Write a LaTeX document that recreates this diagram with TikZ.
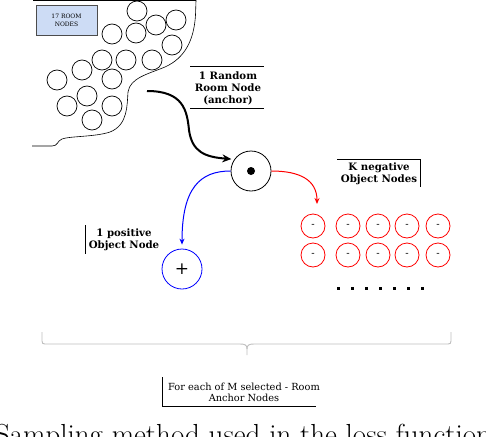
\documentclass[tikz,border=0pt]{standalone}
\usepackage{fontspec}
\newfontfamily\djs{DejaVu Serif}
\usetikzlibrary{arrows.meta}
\definecolor{roombox}{RGB}{205,220,245}
\definecolor{bracegray}{RGB}{190,190,190}
\begin{document}
\begin{tikzpicture}[x=1pt,y=-1pt,
  room/.style={circle,draw=black,line width=0.7pt,minimum size=20pt,inner sep=0pt},
  negnode/.style={circle,draw=red,line width=0.8pt,minimum size=24pt,inner sep=0pt,font=\djs\fontsize{10}{10}\selectfont},
  lbl/.style={font=\djs\bfseries\fontsize{10.2}{12}\selectfont,align=center,inner sep=0pt},
  plainlbl/.style={font=\djs\fontsize{9.8}{11}\selectfont,align=center,inner sep=0pt},
  rule/.style={line width=0.8pt,black},
  outline/.style={line width=0.6pt,black}]
\useasboundingbox (0,0) rectangle (486,436);

% blob outline of the room
\draw[outline] (33,0.5) -- (196,0.5) -- (195.5,15)
  .. controls (194,40) and (185,58) .. (165,67)
  .. controls (148,74) and (130,78) .. (128,92)
  .. controls (127,105) and (128,125) .. (110,132)
  .. controls (95,137) and (70,136) .. (62,139)
  .. controls (57,141) and (58,146) .. (52,146) -- (32,146);

\node[draw=black!70,fill=roombox,line width=0.6pt,minimum width=61pt,minimum height=30pt,inner sep=0pt,
  font=\djs\fontsize{6}{8}\selectfont,align=center] (roomlbl) at (66.5,20) {17 ROOM\\NODES};

% room nodes
\node[room] (r1) at (137,11) {};
\node[room] (r2) at (156,25) {};
\node[room] (r3) at (176,20) {};
\node[room] (r4) at (136,33) {};
\node[room] (r5) at (112,34) {};
\node[room] (r6) at (172,45) {};
\node[room] (r7) at (102,60) {};
\node[room] (r8) at (126,60) {};
\node[room] (r9) at (152,60) {};
\node[room] (r10) at (82,70) {};
\node[room] (r11) at (112,79) {};
\node[room] (r12) at (57,80) {};
\node[room] (r13) at (87,96) {};
\node[room] (r14) at (67,106) {};
\node[room] (r15) at (112,106) {};
\node[room] (r16) at (92,120) {};

% anchor label
\node[lbl] (anchorlbl) at (228,88) {1 Random\\Room Node\\(anchor)};
\draw[rule] (190,66) -- (264,66);
\draw[rule] (190,108) -- (264,108);

% anchor node
\node[circle,draw=black,line width=0.8pt,minimum size=40pt,inner sep=0pt] (anchor) at (251,171) {};
\node[circle,fill=black,minimum size=8pt,inner sep=0pt] (dot) at (anchor) {};

\coordinate (ra) at (147,91);
\draw[line width=2pt,-{Stealth[length=9pt,width=8pt]},shorten >=3pt] (ra)
  .. controls (183,91) and (187,110) .. (189,130)
  .. controls (192,152) and (205,157) .. (anchor.145);

% positive
\node[circle,draw=blue,line width=0.8pt,minimum size=40pt,inner sep=0pt,font=\djs\fontsize{17}{17}\selectfont] (pos) at (182,269) {+};
\draw[blue,line width=1pt,-{Stealth[length=6pt,width=5pt]},shorten >=4pt] (anchor.west)
  .. controls (200,171) and (182,188) .. (pos.north);
\node[lbl] (poslbl) at (124,240) {1 positive\\Object Node};
\draw[rule] (85,225) -- (85,254);

% negatives
\node[lbl] (neglbl) at (379,173.5) {K negative\\Object Nodes};
\draw[rule] (337,159) -- (420,159) -- (420,187);
\coordinate (redtip) at (317,204);
\draw[red,line width=1pt,-{Stealth[length=6pt,width=5pt]}] (anchor.east)
  .. controls (300,171) and (317,180) .. (redtip);

\foreach \i/\x in {1/313,2/348,3/378,4/407,5/438}{
  \node[negnode] (na\i) at (\x,226) {-};
  \node[negnode] (nb\i) at (\x,255) {-};
}
\foreach \k in {0,...,6}{
  \fill[black] ({338+14*\k-1.5},286.5) rectangle ++(3,3);
}

% brace
\draw[bracegray,line width=0.9pt] (42,332) -- (42,341) .. controls (42,343.5) and (43,344) .. (45,344)
  -- (240,344) .. controls (245,344) and (247,345) .. (247,349) -- (247,355);
\draw[bracegray,line width=0.9pt] (451,332) -- (451,341) .. controls (451,343.5) and (450,344) .. (448,344)
  -- (254,344) .. controls (249,344) and (247,345) .. (247,349);

% bottom label
\node[plainlbl] (mlbl) at (244,392.5) {For each of M selected - Room\\Anchor Nodes};
\draw[rule] (162,377) -- (162,406) -- (316,406);

% caption, cut by the page edge
\begin{scope}
\clip (0,0) rectangle (486,436);
\node[anchor=base,inner sep=0pt,font=\fontsize{29}{34}\selectfont] (caption) at (243,444) {Sampling method used in the loss function};
\end{scope}
\end{tikzpicture}
\end{document}
